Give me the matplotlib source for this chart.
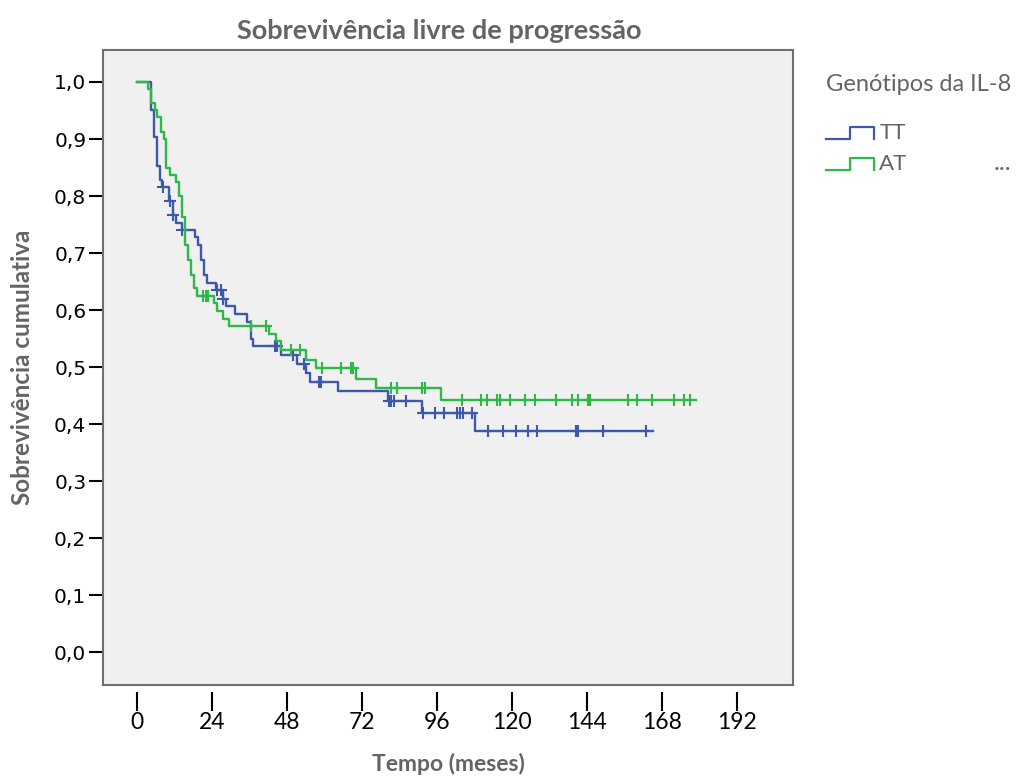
import numpy as np
import matplotlib
matplotlib.use('Agg')
import matplotlib.pyplot as plt
from matplotlib.lines import Line2D
from matplotlib.legend_handler import HandlerBase

# ---------------- data ----------------
tt_event_times = [4.3, 5.4, 6.4, 7.3, 8.0, 10.3, 11.4, 12.4, 14.3, 18.4, 19.4, 20.3,
                  21.3, 22.3, 25.3, 27.4, 28.4, 31.3, 35.2, 36.3, 37.2, 45.9, 51.2,
                  54.2, 55.3, 64.3, 80.3, 91.3, 108.0]
tt_surv = [0.950, 0.903, 0.853, 0.828, 0.816, 0.792, 0.767, 0.753, 0.740, 0.728, 0.714,
           0.688, 0.661, 0.648, 0.635, 0.620, 0.607, 0.593, 0.580, 0.550, 0.537, 0.521,
           0.506, 0.490, 0.474, 0.458, 0.440, 0.420, 0.388]
tt_censor_times = [8.2, 10.5, 11.6, 14.5, 25.5, 26.7, 27.6, 44.1, 44.8, 50.0, 53.5, 58.2,
                   59.0, 80.5, 81.4, 82.1, 86.2, 91.5, 95.2, 98.1, 102.4, 103.2, 104.2,
                   107.2, 112.2, 117.0, 121.1, 125.0, 128.0, 140.3, 141.0, 149.0, 163.0]
tt_end = 165.0

at_event_times = [3.6, 4.4, 5.6, 6.5, 7.6, 8.6, 9.4, 10.4, 12.4, 13.4, 14.4, 15.3, 16.4,
                  17.3, 18.1, 19.1, 24.6, 25.7, 27.4, 29.5, 42.3, 44.4, 46.2, 54.2, 57.2,
                  70.2, 76.4, 97.2]
at_surv = [0.988, 0.963, 0.951, 0.938, 0.913, 0.900, 0.850, 0.837, 0.825, 0.800, 0.763,
           0.714, 0.688, 0.661, 0.638, 0.625, 0.612, 0.599, 0.585, 0.572, 0.559, 0.546,
           0.530, 0.513, 0.498, 0.480, 0.463, 0.442]
at_censor_times = [21.2, 21.9, 22.8, 36.3, 41.2, 49.2, 52.2, 59.3, 65.3, 68.5, 69.2, 81.1,
                   83.2, 91.3, 92.0, 104.1, 110.1, 112.0, 115.1, 116.0, 119.2, 124.2,
                   127.2, 134.1, 139.1, 141.0, 144.2, 145.0, 157.0, 160.0, 164.9, 171.9,
                   175.1, 177.0]
at_end = 178.8

group_labels = ['TT', 'AT']
x_ticks = [0, 24, 48, 72, 96, 120, 144, 168, 192]
y_ticks = [0.0, 0.1, 0.2, 0.3, 0.4, 0.5, 0.6, 0.7, 0.8, 0.9, 1.0]

BLUE = '#3E58AC'
GREEN = '#2EB848'
GRAY_TXT = '#646464'


def surv_at(t, times, surv):
    times = np.asarray(times)
    surv = np.asarray(surv)
    idx = np.searchsorted(times, np.asarray(t), side='right') - 1
    return np.where(idx >= 0, surv[np.clip(idx, 0, None)], 1.0)


class StepHandler(HandlerBase):
    def create_artists(self, legend, orig_handle, xdescent, ydescent, width, height,
                       fontsize, trans):
        x0, y0 = -xdescent, -ydescent
        lo = y0 + 0.05 * height
        hi = y0 + 0.75 * height
        xs = [x0, x0 + 0.5 * width, x0 + 0.5 * width, x0 + width, x0 + width]
        ys = [lo, lo, hi, hi, lo]
        ln = Line2D(xs, ys, color=orig_handle.get_color(), lw=1.6, transform=trans)
        return [ln]


fig = plt.figure(figsize=(10.17, 7.76), dpi=100)
fig.patch.set_facecolor('white')
ax = fig.add_axes([103 / 1017, 1 - 685 / 776, 690 / 1017, 635 / 776])
ax.set_facecolor('#F0F0F0')

handles = []
for times, surv, ctimes, end, color, lab in [
        (tt_event_times, tt_surv, tt_censor_times, tt_end, BLUE, group_labels[0]),
        (at_event_times, at_surv, at_censor_times, at_end, GREEN, group_labels[1])]:
    xs = [0.0] + list(times) + [end]
    ys = [1.0] + list(surv) + [surv[-1]]
    ln, = ax.step(xs, ys, where='post', color=color, lw=1.7, label=lab, zorder=3)
    cy = surv_at(ctimes, times, surv)
    ax.plot(ctimes, cy, linestyle='none', marker='+', markersize=9, mew=1.5,
            color=color, zorder=3)
    handles.append(ln)

ax.set_xlim(-10.9, 209.9)
ax.set_ylim(-0.057, 1.056)

for s in ax.spines.values():
    s.set_color('#707070')
    s.set_linewidth(1.5)

ax.set_yticks(y_ticks)
ax.set_yticklabels([f'{v:.1f}'.replace('.', ',') for v in y_ticks],
                   fontsize=14.5, family='DejaVu Sans')
ax.tick_params(axis='y', direction='out', length=10, width=1.5, color='black', pad=2)

ax.set_xticks([])
sec = ax.secondary_xaxis('bottom')
sec.spines['bottom'].set_position(('outward', 5))
sec.spines['bottom'].set_visible(False)
sec.set_xticks(x_ticks)
sec.set_xticklabels([str(v) for v in x_ticks], fontsize=16.5, family='Lato')
sec.tick_params(axis='x', direction='out', length=14, width=1.5, color='black', pad=0.5)
sec.set_xlabel('Tempo (meses)', fontsize=16.5, fontweight='bold', color=GRAY_TXT,
               family='Lato', labelpad=14)

ax.set_ylabel('Sobrevivência cumulativa', fontsize=17.5, fontweight='bold',
              color=GRAY_TXT, family='Lato', labelpad=14.5)
ax.set_title('Sobrevivência livre de progressão', fontsize=19.5, fontweight='bold',
             color=GRAY_TXT, family='Lato', pad=8, x=0.487)

leg = fig.legend(handles, group_labels, loc='upper left',
                 bbox_to_anchor=(826 / 1017, 1 - 74 / 776), bbox_transform=fig.transFigure,
                 frameon=False, title='Genótipos da IL-8', alignment='left',
                 handler_map={Line2D: StepHandler()}, handlelength=2.15,
                 handleheight=0.8, handletextpad=0.25, labelspacing=0.5,
                 fontsize=16, title_fontsize=17, borderpad=0, borderaxespad=0)
plt.setp(leg.get_title(), color=GRAY_TXT, family='Lato')
for t in leg.get_texts():
    t.set_color(GRAY_TXT)
    t.set_family('Lato')
leg._legend_box.sep = 20

fig.text(1002 / 1017, 1 - 163 / 776, '...', fontsize=18, color=GRAY_TXT,
         ha='center', va='center', family='Lato')

fig.savefig('out.png', dpi=100, facecolor='white')
